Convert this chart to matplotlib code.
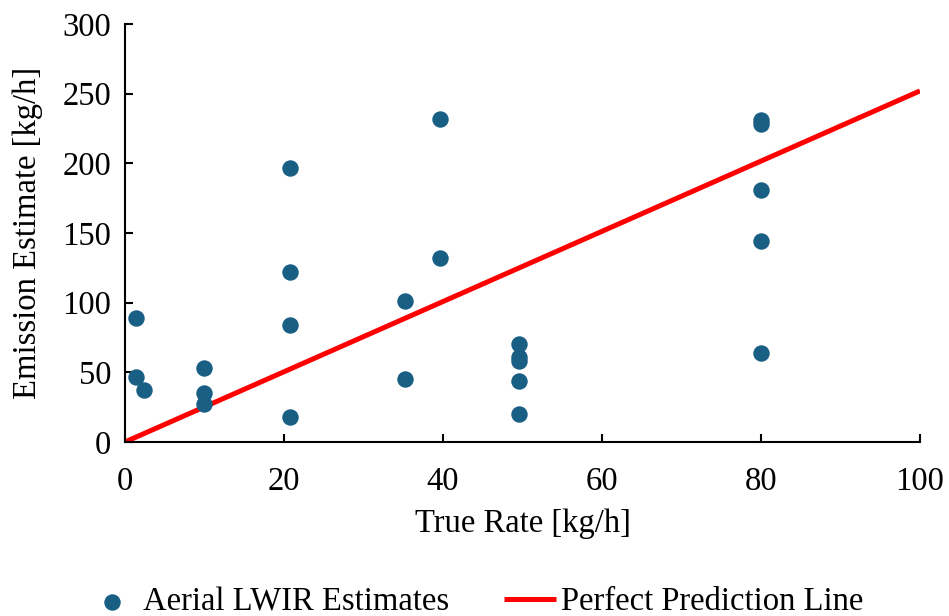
import matplotlib
matplotlib.use("Agg")
import matplotlib.pyplot as plt

# Aerial LWIR estimates vs true release rate
true_rate = [1.4, 1.4, 2.4, 9.9, 9.9, 9.9, 20.8, 20.8, 20.8, 20.8,
             35.2, 35.2, 39.6, 39.6, 49.6, 49.6, 49.6, 49.6, 49.6,
             80.0, 80.0, 80.0, 80.0, 80.0]
estimate = [89, 47, 37, 53, 35, 27, 197, 122, 84, 18,
            101, 45, 232, 132, 70, 61, 58, 44, 20,
            231, 228, 181, 144, 64]

line_x = [0, 100]
line_y = [0, 252]

plt.rcParams['font.family'] = ['Liberation Serif', 'DejaVu Serif']
fs = 23.5

fig = plt.figure(figsize=(9.49, 6.16), dpi=100)
ax = fig.add_axes([0.1317, 0.2825, 0.8377, 0.6785])

ax.scatter(true_rate, estimate, s=140, color='#195f84', zorder=3,
           label='Aerial LWIR Estimates', linewidths=0)
ax.plot(line_x, line_y, color='#ff0000', lw=3.6, zorder=2,
        label='Perfect Prediction Line', solid_capstyle='butt')

ax.set_xlim(0, 100)
ax.set_ylim(0, 300)
ax.set_xticks(range(0, 101, 20))
ax.set_yticks(range(0, 301, 50))
ax.spines['top'].set_visible(False)
ax.spines['right'].set_visible(False)
ax.spines['left'].set_linewidth(1.5)
ax.spines['bottom'].set_linewidth(1.5)
ax.tick_params(direction='in', length=6, width=1.5, labelsize=fs)
ax.tick_params(axis='x', pad=18)
ax.tick_params(axis='y', pad=10)

ax.set_xlabel('True Rate [kg/h]', fontsize=fs, labelpad=8)
ax.set_ylabel('Emission Estimate [kg/h]', fontsize=fs, labelpad=14)

fig.legend(loc='lower center', bbox_to_anchor=(0.5, -0.05), ncol=2,
           frameon=False, fontsize=fs, columnspacing=1.7,
           handlelength=1.6, handletextpad=0.15)

fig.savefig('out.png', dpi=100)
